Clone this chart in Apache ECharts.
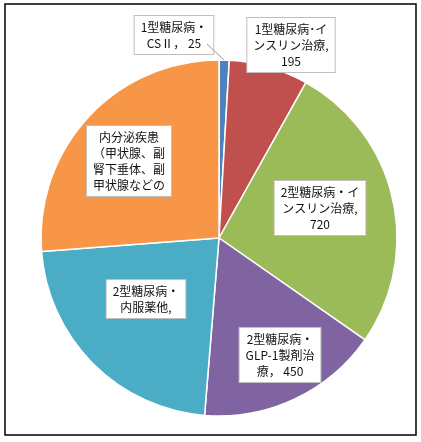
<!doctype html>
<html>

<head>
    <meta charset="utf-8">
    <title>pie</title>
    <script src="https://cdn.jsdelivr.net/npm/echarts@6/dist/echarts.min.js"></script>
    <style>
        body {
            margin: 0;
            background: white;
        }

        #container {
            height: 442px;
            width: 421px;
        }
    </style>
</head>

<body>

    <div id="container"></div>

    <script type="text/javascript">
        // 区分と件数
        var names = [
            '1型糖尿病・\nCSⅡ， 25',
            '1型糖尿病･イ\nンスリン治療,\n195',
            '2型糖尿病・イ\nンスリン治療,\n720',
            '2型糖尿病・\nGLP-1製剤治\n療， 450',
            '2型糖尿病・\n内服薬他,',
            '内分泌疾患\n（甲状腺、副\n腎下垂体、副\n甲状腺などの'
        ]
        var values = [25, 195, 720, 450, 610, 710]
        var colors = ['#4F81BD', '#C0504D', '#9BBB59', '#8064A2', '#4BACC6', '#F79646']

        // ラベルの位置（中心）
        var labelPos = [
            [174, 35],
            [291, 45],
            [320, 208],
            [280, 355],
            [146, 299],
            [129, 161]
        ]
        var center = [219, 238]
        var radius = 178

        var dataList = []
        for (var i = 0; i < values.length; i++) {
            dataList.push({
                name: names[i],
                value: values[i],
                itemStyle: { color: colors[i] }
            })
        }

        // 1型糖尿病・CSⅡ の引き出し線（ラベル右下 → 扇形の外周中央）
        var total = 0
        for (var k = 0; k < values.length; k++) total += values[k]
        var midAng = (90 - values[0] / 2 / total * 360) * Math.PI / 180
        var ax = center[0] + radius * Math.cos(midAng)
        var ay = center[1] - radius * Math.sin(midAng)

        var option = {
            backgroundColor: '#fff',
            animation: false,
            graphic: {
                elements: [{
                    type: 'rect',
                    shape: { x: 5, y: 4, width: 411, height: 431 },
                    style: { fill: 'none', stroke: '#000', lineWidth: 1.5 }
                }, {
                    type: 'line',
                    z: 100,
                    shape: { x1: labelPos[0][0] + 33, y1: labelPos[0][1] + 9, x2: ax, y2: ay },
                    style: { stroke: '#999', lineWidth: 1 }
                }]
            },
            series: [{
                type: 'pie',
                center: center,
                radius: radius,
                startAngle: 90,
                clockwise: true,
                itemStyle: {
                    borderColor: '#fff',
                    borderWidth: 1.5
                },
                label: {
                    show: true,
                    position: 'inside',
                    formatter: '{b}',
                    color: '#111',
                    fontSize: 12,
                    lineHeight: 16,
                    fontFamily: 'Noto Sans CJK JP',
                    align: 'center',
                    backgroundColor: '#fff',
                    borderColor: '#bfbfbf',
                    borderWidth: 1,
                    padding: [3, 6]
                },
                labelLine: { show: false },
                labelLayout: function(params) {
                    var p = labelPos[params.dataIndex]
                    return {
                        x: p[0],
                        y: p[1],
                        align: 'center',
                        verticalAlign: 'middle',
                        hideOverlap: false
                    }
                },
                data: dataList
            }]
        };
        var myChart = echarts.init(document.getElementById('container'));
        myChart.setOption(option);
    </script>
</body>

</html>
